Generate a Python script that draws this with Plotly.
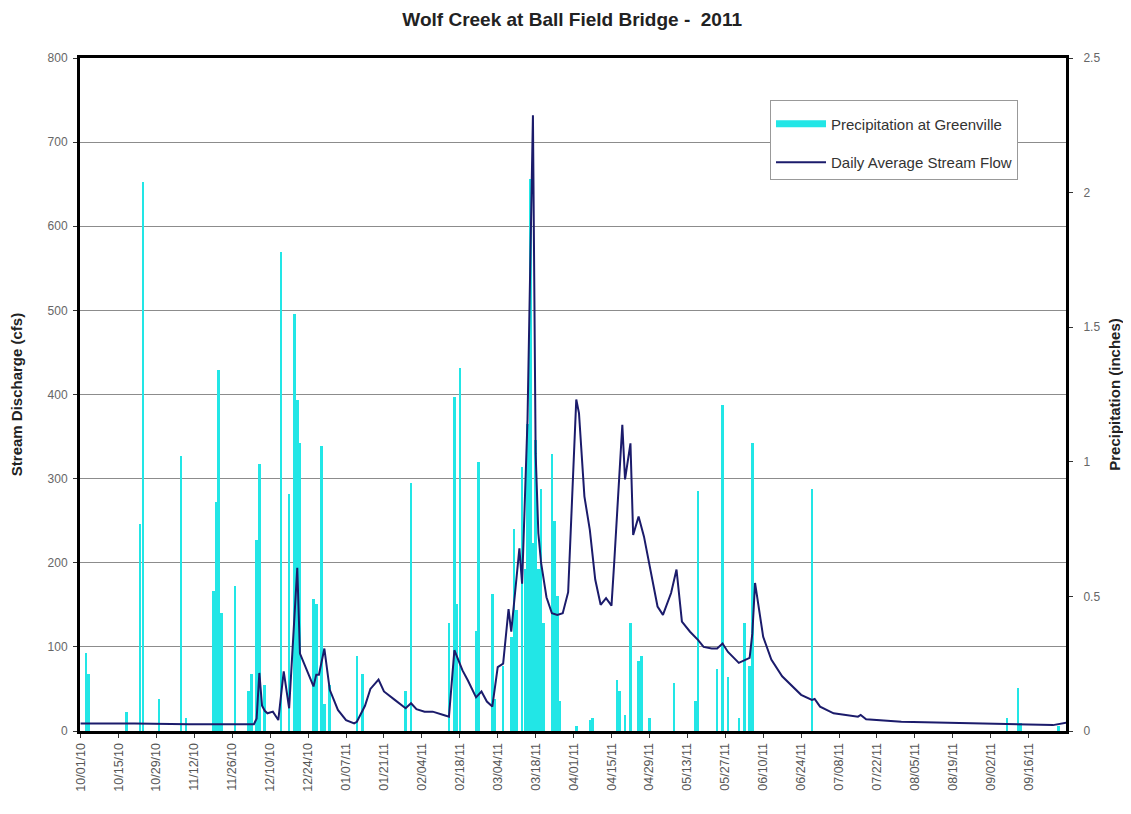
import plotly.graph_objects as go

# ---------------- data ----------------
precip_dates = [
    "2010-10-03", "2010-10-04", "2010-10-18", "2010-10-23", "2010-10-24", "2010-10-30",
    "2010-11-07", "2010-11-09", "2010-11-19", "2010-11-20", "2010-11-21", "2010-11-22",
    "2010-11-27", "2010-12-02", "2010-12-03", "2010-12-05", "2010-12-06", "2010-12-08",
    "2010-12-14", "2010-12-17", "2010-12-19", "2010-12-20", "2010-12-21", "2010-12-26",
    "2010-12-27", "2010-12-29", "2010-12-30", "2011-01-01", "2011-01-11", "2011-01-13",
    "2011-01-29", "2011-01-31", "2011-02-14", "2011-02-16", "2011-02-17", "2011-02-18",
    "2011-02-24", "2011-02-25", "2011-03-02", "2011-03-03", "2011-03-06", "2011-03-09",
    "2011-03-10", "2011-03-11", "2011-03-13", "2011-03-14", "2011-03-15", "2011-03-16",
    "2011-03-17", "2011-03-18", "2011-03-19", "2011-03-20", "2011-03-21", "2011-03-24",
    "2011-03-25", "2011-03-26", "2011-03-27", "2011-04-02", "2011-04-07", "2011-04-08",
    "2011-04-17", "2011-04-18", "2011-04-20", "2011-04-22", "2011-04-25", "2011-04-26",
    "2011-04-29", "2011-05-08", "2011-05-16", "2011-05-17", "2011-05-24", "2011-05-26",
    "2011-05-28", "2011-06-01", "2011-06-03", "2011-06-05", "2011-06-06", "2011-06-28",
    "2011-09-08", "2011-09-12", "2011-09-13", "2011-09-27",
]
precip_in = [
    0.29, 0.21, 0.07, 0.77, 2.04, 0.12,
    1.02, 0.05, 0.52, 0.85, 1.34, 0.44,
    0.54, 0.15, 0.21, 0.71, 0.99, 0.17,
    1.78, 0.88, 1.55, 1.23, 1.07, 0.49,
    0.47, 1.06, 0.10, 0.17, 0.28, 0.21,
    0.15, 0.92, 0.40, 1.24, 0.47, 1.35,
    0.37, 1.00, 0.51, 0.12, 0.24, 0.35,
    0.75, 0.45, 0.98, 0.60, 1.14, 2.05,
    0.70, 1.08, 0.60, 0.90, 0.40, 1.03,
    0.78, 0.50, 0.11, 0.02, 0.04, 0.05,
    0.19, 0.15, 0.06, 0.40, 0.26, 0.28,
    0.05, 0.18, 0.11, 0.89, 0.23, 1.21,
    0.20, 0.05, 0.40, 0.24, 1.07, 0.90,
    0.05, 0.16, 0.03, 0.02,
]

flow_dates = [
    "2010-10-01", "2010-10-21", "2010-11-10", "2010-12-04", "2010-12-05", "2010-12-06",
    "2010-12-07", "2010-12-08", "2010-12-09", "2010-12-11", "2010-12-13", "2010-12-15",
    "2010-12-17", "2010-12-20", "2010-12-21", "2010-12-23", "2010-12-26", "2010-12-27",
    "2010-12-28", "2010-12-30", "2011-01-01", "2011-01-04", "2011-01-07", "2011-01-10",
    "2011-01-11", "2011-01-14", "2011-01-16", "2011-01-19", "2011-01-21", "2011-01-25",
    "2011-01-29", "2011-01-31", "2011-02-02", "2011-02-05", "2011-02-08", "2011-02-12",
    "2011-02-14", "2011-02-16", "2011-02-19", "2011-02-21", "2011-02-24", "2011-02-26",
    "2011-02-28", "2011-03-02", "2011-03-04", "2011-03-06", "2011-03-08", "2011-03-09",
    "2011-03-12", "2011-03-13", "2011-03-15", "2011-03-17", "2011-03-18", "2011-03-19",
    "2011-03-20", "2011-03-22", "2011-03-24", "2011-03-26", "2011-03-28", "2011-03-30",
    "2011-03-31", "2011-04-02", "2011-04-03", "2011-04-05", "2011-04-06", "2011-04-07",
    "2011-04-09", "2011-04-11", "2011-04-13", "2011-04-15", "2011-04-16", "2011-04-19",
    "2011-04-20", "2011-04-22", "2011-04-23", "2011-04-25", "2011-04-27", "2011-04-29",
    "2011-05-02", "2011-05-04", "2011-05-07", "2011-05-09", "2011-05-11", "2011-05-14",
    "2011-05-17", "2011-05-19", "2011-05-22", "2011-05-24", "2011-05-26", "2011-05-28",
    "2011-06-01", "2011-06-05", "2011-06-06", "2011-06-07", "2011-06-08", "2011-06-10",
    "2011-06-13", "2011-06-17", "2011-06-24", "2011-06-28", "2011-06-29", "2011-07-01",
    "2011-07-06", "2011-07-15", "2011-07-16", "2011-07-18", "2011-07-31", "2011-08-12",
    "2011-08-24", "2011-09-06", "2011-09-18", "2011-09-25", "2011-09-30",
]
flow_cfs = [
    9, 9, 8, 8, 15, 69,
    30, 24, 21, 23, 13, 71,
    27, 194, 92, 77, 53, 67,
    67, 98, 49, 25, 13, 9,
    11, 30, 50, 61, 47, 37,
    27, 33, 26, 23, 23, 19,
    17, 96, 72, 60, 40, 47,
    35, 29, 76, 80, 145, 118,
    217, 175, 370, 732, 330, 235,
    200, 159, 140, 138, 140, 165,
    240, 394, 378, 279, 259, 239,
    180, 150, 158, 149, 200, 364,
    299, 342, 233, 255, 231, 196,
    148, 138, 164, 192, 130, 118,
    108, 100, 98, 98, 104, 94,
    81, 87, 116, 176, 156, 112,
    85, 65, 43, 37, 38, 29,
    21, 17, 19, 14, 11, 10,
    9, 8, 7, 7, 10,
]

tick_dates = [
    "2010-10-01", "2010-10-15", "2010-10-29", "2010-11-12", "2010-11-26", "2010-12-10",
    "2010-12-24", "2011-01-07", "2011-01-21", "2011-02-04", "2011-02-18", "2011-03-04",
    "2011-03-18", "2011-04-01", "2011-04-15", "2011-04-29", "2011-05-13", "2011-05-27",
    "2011-06-10", "2011-06-24", "2011-07-08", "2011-07-22", "2011-08-05", "2011-08-19",
    "2011-09-02", "2011-09-16",
]
tick_labels = [
    "10/01/10", "10/15/10", "10/29/10", "11/12/10", "11/26/10", "12/10/10",
    "12/24/10", "01/07/11", "01/21/11", "02/04/11", "02/18/11", "03/04/11",
    "03/18/11", "04/01/11", "04/15/11", "04/29/11", "05/13/11", "05/27/11",
    "06/10/11", "06/24/11", "07/08/11", "07/22/11", "08/05/11", "08/19/11",
    "09/02/11", "09/16/11",
]

# ---------------- figure ----------------
FONT = "Arial, Liberation Sans, sans-serif"
DAY_MS = 86400000
CYAN = "#22E6E6"
NAVY = "#1B1B6B"

fig = go.Figure()
fig.add_trace(go.Bar(
    x=precip_dates, y=precip_in, name="Precipitation at Greenville",
    marker=dict(color=CYAN, line=dict(width=0)),
    width=DAY_MS * 0.95, yaxis="y", showlegend=False,
))
# legend-only entry drawn as a wide cyan swatch (like the original legend key)
fig.add_trace(go.Scatter(
    x=[None], y=[None], name="Precipitation at Greenville",
    mode="lines", line=dict(color=CYAN, width=7),
    yaxis="y", legendgroup="a", hoverinfo="skip",
))
fig.add_trace(go.Scatter(
    x=flow_dates, y=flow_cfs, name="Daily Average Stream Flow",
    mode="lines", line=dict(color=NAVY, width=2),
    yaxis="y2", legendgroup="b",
))

fig.update_layout(
    width=1115, height=798,
    margin=dict(l=72, r=57, t=50, b=75),
    paper_bgcolor="white", plot_bgcolor="white",
    font=dict(family=FONT, color="#333"),
    title=dict(text="<b>Wolf Creek at Ball Field Bridge -  2011</b>",
               x=0.506, xanchor="center", y=0.986, yanchor="middle",
               font=dict(size=19, color="#222", family=FONT)),
    bargap=0,
    showlegend=True,
    legend=dict(x=0.6998, y=0.9376, xanchor="left", yanchor="top",
                bgcolor="white", bordercolor="#999", borderwidth=1,
                font=dict(size=15, color="#333"),
                title=dict(text=" ", font=dict(size=5)),
                traceorder="grouped", tracegroupgap=16, itemwidth=50),
    xaxis=dict(
        type="date", range=["2010-09-30 19:00", "2011-09-29 19:00"],
        tickvals=tick_dates, ticktext=tick_labels, tickangle=-90,
        tickfont=dict(size=12.5, color="#555"),
        showgrid=False, zeroline=False, automargin=False,
        showline=True, linecolor="black", linewidth=3, mirror=True,
        ticks="outside", ticklen=4, tickcolor="#333",
    ),
    yaxis=dict(
        side="right", range=[0, 2.5], dtick=0.5, automargin=False,
        showgrid=False, zeroline=False,
        showline=True, linecolor="black", linewidth=3, mirror=True,
        ticks="outside", ticklen=4, tickcolor="#333", ticklabelstandoff=8,
        tickfont=dict(size=12, color="#666"),
        title=dict(text="<b>Precipitation (inches)</b>", font=dict(size=15, color="#222"), standoff=22),
    ),
    yaxis2=dict(
        overlaying="y", side="left", range=[0, 800], dtick=100, automargin=False,
        showgrid=True, gridcolor="#8c8c8c", gridwidth=1, zeroline=False,
        showline=True, linecolor="black", linewidth=3,
        ticks="outside", ticklen=4, tickcolor="#333", ticklabelstandoff=3,
        tickfont=dict(size=12, color="#666"),
        title=dict(text="<b>Stream Discharge (cfs)</b>", font=dict(size=15, color="#222"), standoff=23),
    ),
)

fig.write_html("out.html")
